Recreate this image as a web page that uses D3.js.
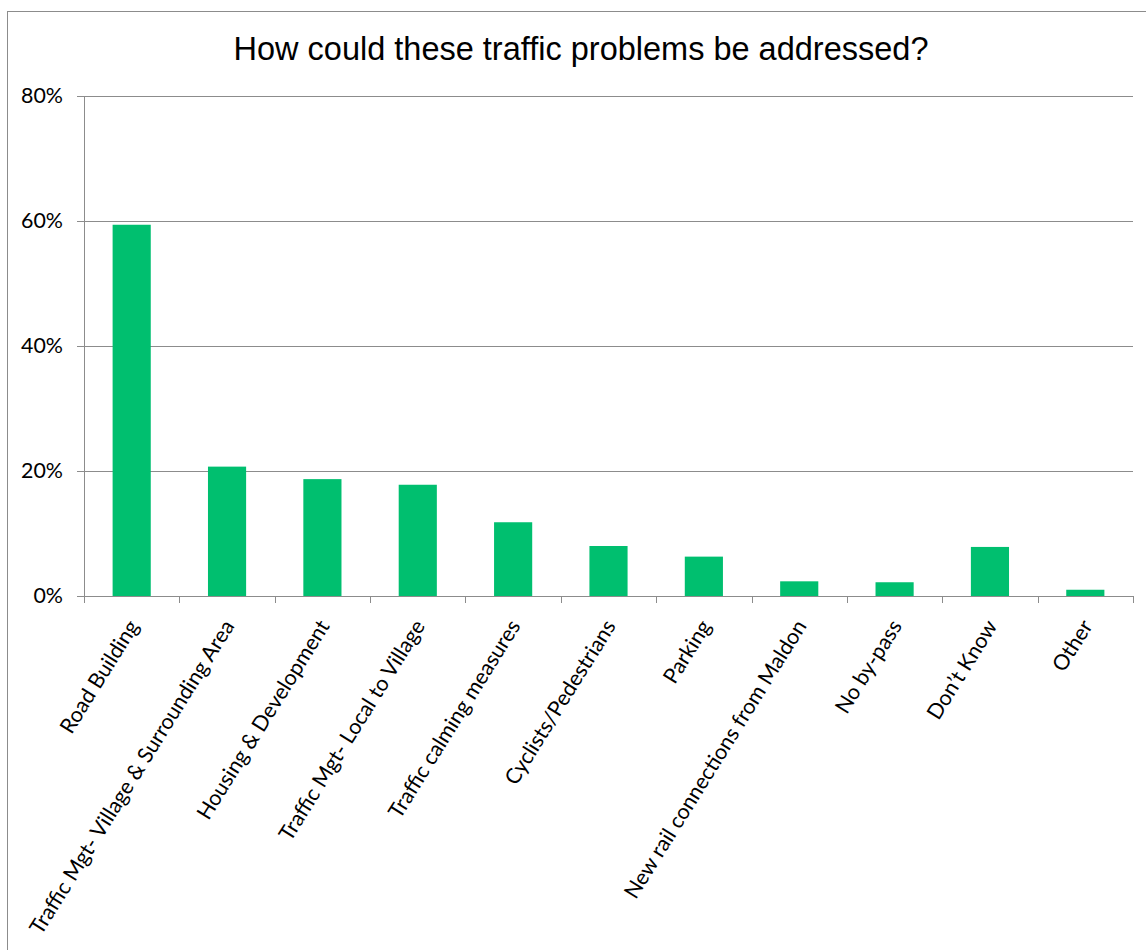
<!DOCTYPE html>
<html>
<head>
<meta charset="utf-8">
<script src="https://cdn.jsdelivr.net/npm/d3@7/dist/d3.min.js"></script>
<style>
  html, body { margin: 0; padding: 0; background: #fff; }
  svg { display: block; }
</style>
</head>
<body>
<svg id="chart" width="1146" height="950"></svg>
<script>
const title = "How could these traffic problems be addressed?";
const categories = [
  "Road Building",
  "Traffic Mgt- Village & Surrounding Area",
  "Housing & Development",
  "Traffic Mgt- Local to Village",
  "Traffic calming measures",
  "Cyclists/Pedestrians",
  "Parking",
  "New rail connections from Maldon",
  "No by-pass",
  "Don\u2019t Know",
  "Other"
];
const values = [0.594, 0.207, 0.187, 0.178, 0.118, 0.080, 0.063, 0.0235, 0.022, 0.0785, 0.010];
const yTicks = [0, 0.2, 0.4, 0.6, 0.8];

(function () {
const svg = d3.select("#chart");
const pLeft = 84, pRight = 1133, pTop = 96, pBottom = 596;
const gridColor = "#8c8c8c";
const barColor = "#00BF6F";
const labelFont = "Lato, 'Open Sans', sans-serif";

// outer chart border
svg.append("rect")
  .attr("x", 7.5).attr("y", 11.5)
  .attr("width", 1160).attr("height", 960)
  .attr("fill", "none").attr("stroke", gridColor).attr("stroke-width", 1);

// title
svg.append("text")
  .attr("x", 581).attr("y", 60)
  .attr("text-anchor", "middle")
  .attr("font-family", "'Liberation Sans', Arial, sans-serif")
  .attr("font-size", 32.5)
  .attr("fill", "#000")
  .text(title);

// fit label font size so the longest label is about as long as in the reference
const probe = svg.append("text").attr("font-family", labelFont).attr("font-size", 20)
  .text(categories[1]);
const probeLen = probe.node().getComputedTextLength();
probe.remove();
const labelSize = probeLen > 0 ? 20 * 366 / probeLen : 22;

const x = d3.scaleBand().domain(categories).range([pLeft, pRight]).paddingInner(0.6).paddingOuter(0.3);
const y = d3.scaleLinear().domain([0, 0.8]).range([pBottom, pTop]);

// gridlines
svg.append("g")
  .selectAll("line")
  .data(yTicks)
  .join("line")
  .attr("x1", pLeft - 7).attr("x2", pRight)
  .attr("y1", d => Math.round(y(d)) + 0.5).attr("y2", d => Math.round(y(d)) + 0.5)
  .attr("stroke", gridColor).attr("stroke-width", 1);

// y axis line
svg.append("line")
  .attr("x1", pLeft + 0.5).attr("x2", pLeft + 0.5)
  .attr("y1", pTop).attr("y2", pBottom + 0.5)
  .attr("stroke", gridColor).attr("stroke-width", 1);

// y tick labels
svg.append("g")
  .selectAll("text")
  .data(yTicks)
  .join("text")
  .attr("x", 63).attr("y", d => y(d))
  .attr("dy", "0.35em")
  .attr("text-anchor", "end")
  .attr("font-family", labelFont)
  .attr("font-size", labelSize)
  .attr("fill", "#000")
  .text(d => d3.format(".0%")(d));

// bars
svg.append("g")
  .selectAll("rect")
  .data(values)
  .join("rect")
  .attr("x", (d, i) => x(categories[i]))
  .attr("width", x.bandwidth())
  .attr("y", d => y(d))
  .attr("height", d => y(0) - y(d))
  .attr("fill", barColor);

// x axis line (drawn over bars)
svg.append("line")
  .attr("x1", pLeft - 7).attr("x2", pRight)
  .attr("y1", pBottom + 0.5).attr("y2", pBottom + 0.5)
  .attr("stroke", gridColor).attr("stroke-width", 1);

// x ticks at category boundaries
const boundaries = d3.range(categories.length + 1).map(i => pLeft + i * (pRight - pLeft) / categories.length);
svg.append("g")
  .selectAll("line")
  .data(boundaries)
  .join("line")
  .attr("x1", d => Math.round(d) + 0.5).attr("x2", d => Math.round(d) + 0.5)
  .attr("y1", pBottom).attr("y2", pBottom + 7)
  .attr("stroke", gridColor).attr("stroke-width", 1);

// x labels rotated
svg.append("g")
  .selectAll("text")
  .data(categories)
  .join("text")
  .attr("text-anchor", "end")
  .attr("transform", d => `translate(${x(d) + x.bandwidth() / 2 + 8},${pBottom + 30}) rotate(-58)`)
  .attr("font-family", labelFont)
  .attr("font-size", labelSize)
  .attr("fill", "#000")
  .text(d => d);
})();
</script>
</body>
</html>
